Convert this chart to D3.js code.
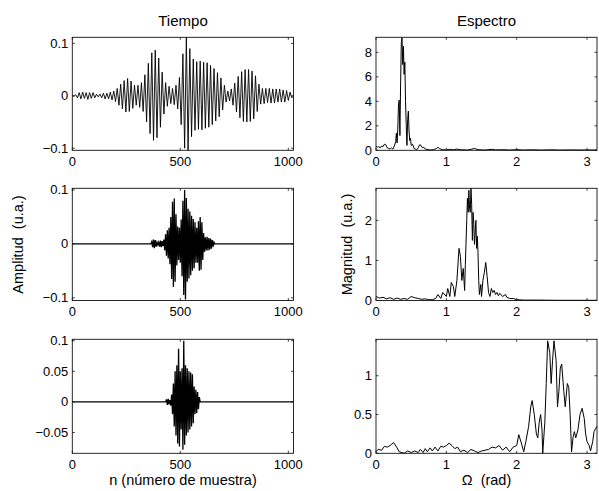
<!DOCTYPE html>
<html>
<head>
<meta charset="utf-8">
<script src="https://cdn.jsdelivr.net/npm/d3@7"></script>
<style>
  body { margin: 0; background: #fff; }
  text { font-family: "Liberation Sans", Arial, Helvetica, sans-serif; fill: #000; }
</style>
</head>
<body>
<div id="chart"></div>
<script>
// time signals: alternating extremes, one value every `step` samples from `start`
var sig1Start = 0, sig1Step = 8
var sig1 = [0,-0.001,0.002,-0.004,0.006,-0.006,0.007,-0.005,0.006,-0.007,0.006,-0.005,0.006,-0.004,0.003,-0.002,
    0.003,-0.004,0.005,-0.006,0.005,-0.006,0.007,-0.008,0.009,-0.011,0.014,-0.018,0.022,-0.025,0.029,-0.031,
    0.033,-0.030,0.028,-0.024,0.020,-0.018,0.020,-0.022,0.025,-0.030,0.040,-0.050,0.062,-0.072,0.082,-0.085,
    0.087,-0.080,0.072,-0.060,0.045,-0.035,0.025,-0.020,0.018,-0.015,0.014,-0.017,0.020,-0.025,0.035,-0.055,
    0.080,-0.100,0.112,-0.104,0.090,-0.078,0.070,-0.066,0.065,-0.064,0.066,-0.065,0.064,-0.062,0.063,-0.060,
    0.058,-0.055,0.052,-0.048,0.044,-0.040,0.034,-0.027,0.020,-0.012,0.009,-0.010,0.013,-0.018,0.024,-0.031,
    0.037,-0.042,0.046,-0.049,0.050,-0.050,0.050,-0.049,0.047,-0.044,0.038,-0.030,0.022,-0.016,0.014,-0.015,
    0.014,-0.013,0.014,-0.014,0.013,-0.014,0.013,-0.012,0.013,-0.012,0.011,-0.012,0.010,-0.009,0.007,-0.004,0]

var sig2Start = 364, sig2Step = 4
var sig2 = [0,0.004,-0.006,0.008,-0.008,0.007,-0.005,0.003,-0.002,0.003,-0.005,0.006,-0.006,0.005,-0.004,0.008,
    -0.012,0.018,-0.022,0.025,-0.027,0.030,-0.038,0.050,-0.065,0.078,-0.080,0.084,-0.070,0.055,-0.040,0.032,
    -0.030,0.030,-0.035,0.045,-0.060,0.080,-0.095,0.100,-0.103,0.085,-0.070,0.065,-0.064,0.060,-0.058,0.052,
    -0.050,0.046,-0.045,0.040,-0.035,0.030,-0.035,0.042,-0.050,0.050,-0.048,0.040,-0.030,0.020,-0.015,0.012,
    -0.012,0.013,-0.012,0.011,-0.011,0.010,-0.009,0.007,-0.005,0.003,0]

var sig3Start = 432, sig3Step = 4
var sig3 = [0,0.004,-0.005,0.005,-0.004,0.003,-0.006,0.012,-0.020,0.030,-0.040,0.050,-0.055,0.060,-0.068,0.087,
    -0.073,0.050,-0.045,0.055,-0.078,0.100,-0.070,0.060,-0.055,0.055,-0.050,0.050,-0.045,0.048,-0.040,0.045,
    -0.035,0.025,-0.020,0.020,-0.018,0.016,-0.012,0.008,0]

// spectra: [omega (rad), magnitude]
var spec1 = [[0,0.35],[0.02,0.25],[0.04,0.3],[0.06,0.2],[0.08,0.35],[0.1,0.3],[0.12,0.5],[0.14,0.45],[0.16,0.2],
    [0.18,0.15],[0.2,0.1],[0.22,0.2],[0.24,0.1],[0.26,0.35],[0.28,0.7],[0.29,1.4],[0.3,0.6],[0.31,1.8],[0.32,3.8],
    [0.33,4.1],[0.34,1.2],[0.35,5.5],[0.36,8.8],[0.37,9.2],[0.38,7.0],[0.39,8.5],[0.4,6.2],[0.41,7.2],[0.42,4.0],
    [0.43,2.0],[0.44,0.4],[0.45,2.5],[0.46,3.2],[0.47,1.5],[0.48,0.8],[0.49,1.0],[0.5,0.4],[0.52,0.5],[0.54,0.15],
    [0.56,0.1],[0.58,0.05],[0.6,0.2],[0.62,0.45],[0.64,0.4],[0.66,0.2],[0.68,0.25],[0.7,0.1],[0.74,0.05],[0.78,0.02],
    [0.82,0.06],[0.86,0.15],[0.88,0.25],[0.9,0.15],[0.94,0.05],[1.0,0.03],[1.05,0.08],[1.1,0.04],[1.15,0.1],
    [1.2,0.05],[1.3,0.02],[1.35,0.08],[1.4,0.15],[1.45,0.05],[1.55,0.02],[1.65,0.08],[1.7,0.03],[1.8,0.05],
    [1.9,0.02],[2.0,0.05],[2.1,0.02],[2.2,0.04],[2.35,0.02],[2.5,0.04],[2.6,0.02],[2.75,0.03],[2.9,0.02],
    [3.0,0.03],[3.1,0.02],[3.1416,0.02]]

var spec2 = [[0,0.1],[0.05,0.06],[0.1,0.08],[0.15,0.04],[0.2,0.07],[0.25,0.03],[0.3,0.06],[0.35,0.03],[0.4,0.05],
    [0.45,0.03],[0.5,0.1],[0.55,0.07],[0.6,0.05],[0.65,0.03],[0.7,0.04],[0.75,0.02],[0.8,0.02],[0.85,0.05],
    [0.88,0.15],[0.92,0.05],[0.95,0.2],[1.0,0.1],[1.02,0.3],[1.05,0.1],[1.07,0.45],[1.1,0.35],[1.12,0.1],
    [1.15,0.5],[1.18,1.3],[1.2,1.1],[1.22,0.5],[1.24,0.8],[1.26,0.25],[1.27,0.9],[1.29,2.0],[1.3,2.55],[1.31,2.2],
    [1.32,2.75],[1.33,2.3],[1.34,2.2],[1.35,2.8],[1.36,2.4],[1.37,1.5],[1.38,2.2],[1.39,1.9],[1.4,1.4],[1.42,2.0],
    [1.43,1.3],[1.44,1.6],[1.45,1.2],[1.46,0.5],[1.47,0.15],[1.49,0.4],[1.5,0.1],[1.52,0.5],[1.54,0.7],[1.56,0.95],
    [1.58,0.6],[1.6,0.2],[1.62,0.1],[1.64,0.3],[1.66,0.2],[1.68,0.25],[1.7,0.15],[1.72,0.2],[1.74,0.12],[1.76,0.18],
    [1.8,0.1],[1.84,0.15],[1.86,0.08],[1.9,0.05],[1.95,0.05],[2.0,0.02],[2.1,0.01],[2.3,0.01],[2.6,0.005],
    [3.0,0.005],[3.1416,0.005]]

var spec3 = [[0,0.02],[0.03,0.05],[0.08,0.04],[0.12,0.09],[0.16,0.08],[0.2,0.1],[0.25,0.14],[0.3,0.07],[0.33,0.02],
    [0.4,0.0],[0.45,0.03],[0.5,0.01],[0.55,0.03],[0.6,0.01],[0.63,0.05],[0.67,0.01],[0.7,0.06],[0.73,0.02],
    [0.77,0.07],[0.8,0.03],[0.84,0.08],[0.88,0.03],[0.92,0.09],[0.96,0.08],[1.0,0.1],[1.04,0.13],[1.08,0.1],
    [1.12,0.06],[1.16,0.08],[1.2,0.02],[1.25,0.04],[1.3,0.01],[1.35,0.05],[1.4,0.03],[1.45,0.01],[1.5,0.03],
    [1.55,0.04],[1.6,0.05],[1.65,0.08],[1.7,0.07],[1.75,0.1],[1.8,0.04],[1.85,0.08],[1.9,0.02],[1.95,0.08],
    [2.0,0.1],[2.03,0.24],[2.07,0.12],[2.1,0.02],[2.13,0.15],[2.17,0.35],[2.2,0.6],[2.22,0.68],[2.25,0.5],
    [2.28,0.25],[2.3,0.2],[2.32,0.4],[2.34,0.5],[2.36,0.3],[2.37,0.0],[2.4,0.4],[2.42,0.9],[2.44,1.45],[2.47,1.3],
    [2.49,0.9],[2.51,1.2],[2.53,1.45],[2.56,1.2],[2.58,0.6],[2.6,0.8],[2.62,1.1],[2.64,1.15],[2.67,0.8],[2.69,0.6],
    [2.72,0.9],[2.74,0.85],[2.76,0.5],[2.78,0.02],[2.8,0.2],[2.82,0.28],[2.84,0.2],[2.87,0.3],[2.9,0.5],[2.93,0.58],
    [2.96,0.45],[2.98,0.25],[3.0,0.15],[3.03,0.1],[3.05,0.03],[3.08,0.15],[3.1,0.28],[3.1416,0.35]]

var timeTicks = [0, 500, 1000]
var freqTicks = [0, 1, 2, 3]
var yTicksT = [[-0.1, 0, 0.1], [-0.1, 0, 0.1], [-0.05, 0, 0.05, 0.1]]
var yTicksS = [[0, 2, 4, 6, 8], [0, 1, 2], [0, 0.5, 1]]
var yDomT = [[-0.104, 0.1115], [-0.105, 0.103], [-0.084, 0.1023]]
var yDomS = [[0, 9.23], [0, 2.8], [0, 1.47]]

var width = 599, height = 491
var colX = [[72.3, 293.5], [376, 597]]
var rowY = [[37.3, 150.3], [188.3, 300.5], [339.3, 453.3]]

var svg = d3.select("#chart").append("svg")
    .attr("width", width).attr("height", height)
svg.append("rect").attr("width", width).attr("height", height).attr("fill", "#fff")

function fmt(v){
    var s = d3.format("~g")(v)
    return s.replace("-", "\u2212")
}

// expand alternating extremes to [n, value] points, zero elsewhere
function timePoints(start, step, vals){
    var pts = [[0, 0]]
    vals.forEach(function(v, i){ pts.push([start + i*step, v]) })
    pts.push([1024, 0])
    return pts
}

function drawPanel(col, row, data, xDom, yDom, xTicks, yTicks, lw){
    var x = d3.scaleLinear().domain(xDom).range(colX[col])
    var y = d3.scaleLinear().domain(yDom).range([rowY[row][1], rowY[row][0]])
    var g = svg.append("g")
    var tl = 2.5

    g.append("path").datum(data)
        .attr("d", d3.line().x(function(d){ return x(d[0]) }).y(function(d){ return y(d[1]) }))
        .attr("fill", "none").attr("stroke", "#000").attr("stroke-width", lw)
        .attr("stroke-linejoin", "miter")

    // box
    g.append("rect")
        .attr("x", colX[col][0]).attr("y", rowY[row][0])
        .attr("width", colX[col][1] - colX[col][0]).attr("height", rowY[row][1] - rowY[row][0])
        .attr("fill", "none").attr("stroke", "#111").attr("stroke-width", 0.9)

    // inward ticks on all four sides
    xTicks.forEach(function(t){
        g.append("line").attr("x1", x(t)).attr("x2", x(t)).attr("y1", rowY[row][1]).attr("y2", rowY[row][1] - tl)
            .attr("stroke", "#111").attr("stroke-width", 0.8)
        g.append("line").attr("x1", x(t)).attr("x2", x(t)).attr("y1", rowY[row][0]).attr("y2", rowY[row][0] + tl)
            .attr("stroke", "#111").attr("stroke-width", 0.8)
        g.append("text").attr("x", x(t)).attr("y", rowY[row][1] + 15.5)
            .attr("text-anchor", "middle").style("font-size", "13px").text(fmt(t))
    })
    yTicks.forEach(function(t){
        g.append("line").attr("x1", colX[col][0]).attr("x2", colX[col][0] + tl).attr("y1", y(t)).attr("y2", y(t))
            .attr("stroke", "#111").attr("stroke-width", 0.8)
        g.append("line").attr("x1", colX[col][1]).attr("x2", colX[col][1] - tl).attr("y1", y(t)).attr("y2", y(t))
            .attr("stroke", "#111").attr("stroke-width", 0.8)
        g.append("text").attr("x", colX[col][0] - 4).attr("y", y(t) + 4.5)
            .attr("text-anchor", "end").style("font-size", "13px").text(fmt(t))
    })
}

var sigs = [timePoints(sig1Start, sig1Step, sig1), timePoints(sig2Start, sig2Step, sig2), timePoints(sig3Start, sig3Step, sig3)]
var specs = [spec1, spec2, spec3]
var sigWidths = [0.9, 1.3, 1.3]

for (var r = 0; r < 3; r++){
    drawPanel(0, r, sigs[r], [0, 1024], yDomT[r], timeTicks, yTicksT[r], sigWidths[r])
    drawPanel(1, r, specs[r], [0, Math.PI], yDomS[r], freqTicks, yTicksS[r], 1.0)
}

// titles and labels
svg.append("text").attr("x", 183).attr("y", 26).attr("text-anchor", "middle").style("font-size", "15px").text("Tiempo")
svg.append("text").attr("x", 486.5).attr("y", 26).attr("text-anchor", "middle").style("font-size", "15px").text("Espectro")
svg.append("text").attr("x", 183).attr("y", 485).attr("text-anchor", "middle").style("font-size", "14.5px").text("n (número de muestra)")
svg.append("text").attr("x", 486.5).attr("y", 485).attr("text-anchor", "middle").style("font-size", "14.5px")
    .attr("xml:space", "preserve").style("white-space", "pre").text("\u03A9  (rad)")
svg.append("text").attr("transform", "translate(23,244.5) rotate(-90)").attr("text-anchor", "middle")
    .style("font-size", "14.5px").style("white-space", "pre").text("Amplitud  (u.a.)")
svg.append("text").attr("transform", "translate(352,244.5) rotate(-90)").attr("text-anchor", "middle")
    .style("font-size", "14.5px").style("white-space", "pre").text("Magnitud  (u.a.)")
</script>
</body>
</html>
